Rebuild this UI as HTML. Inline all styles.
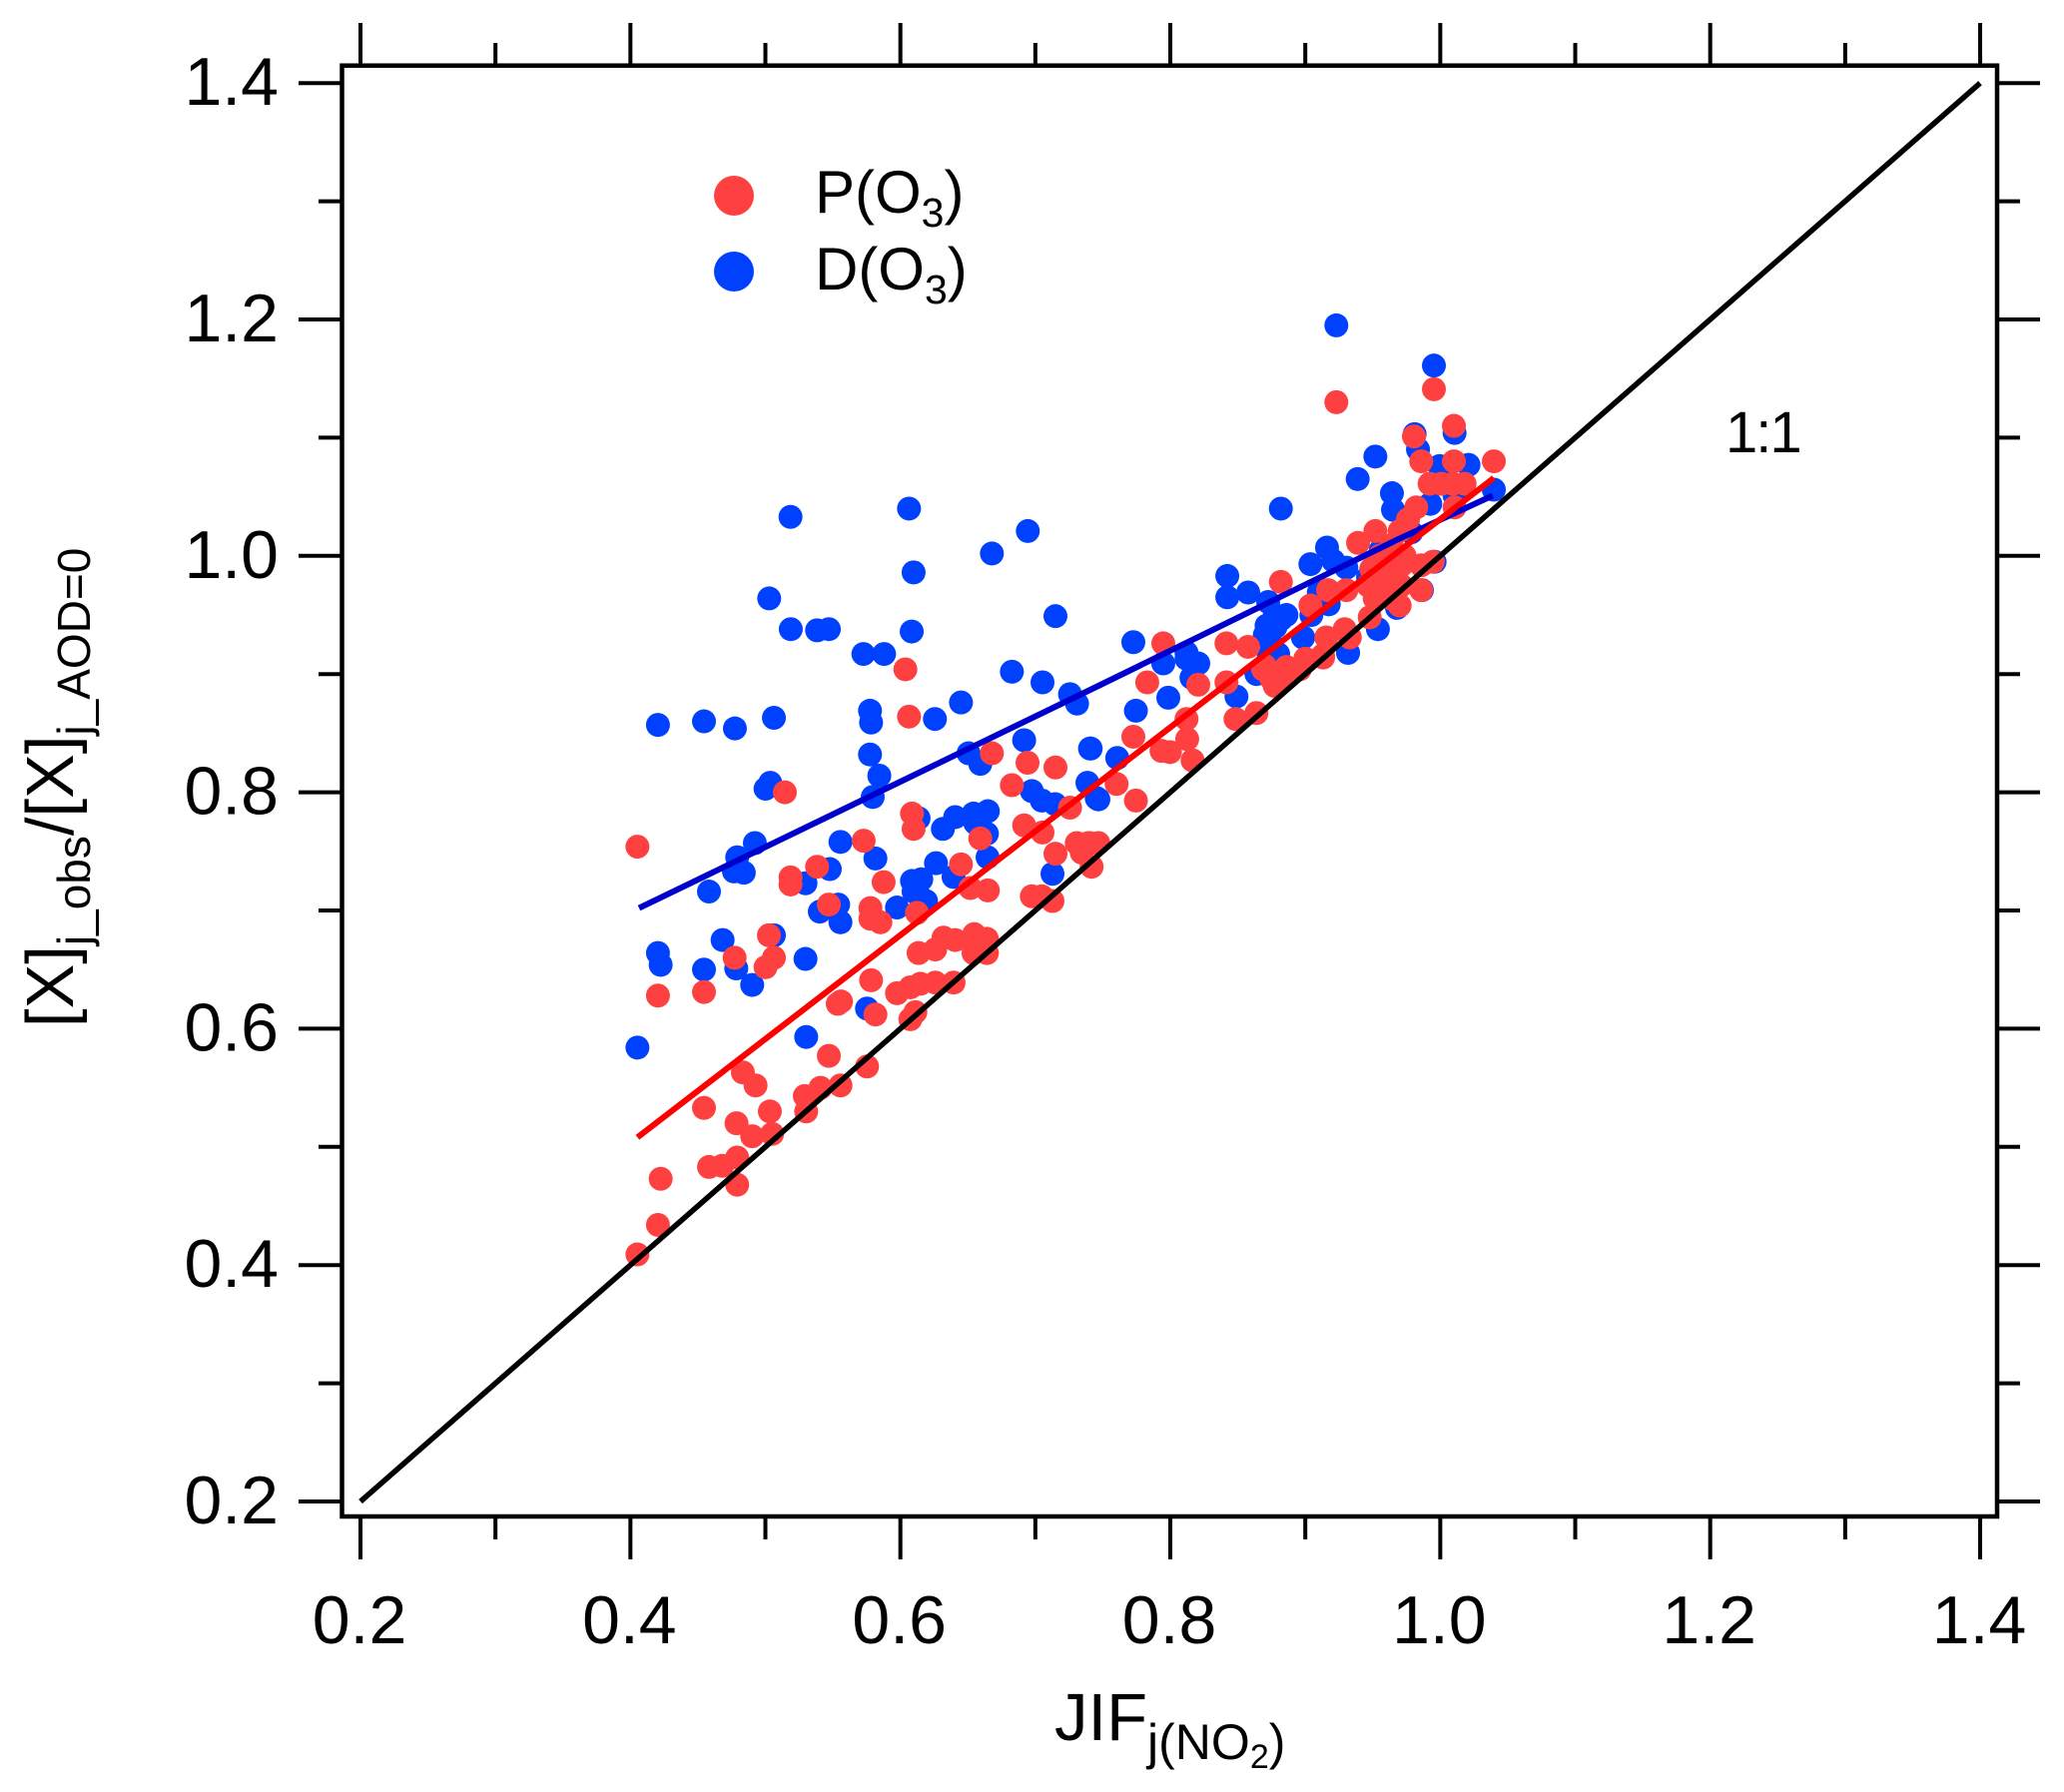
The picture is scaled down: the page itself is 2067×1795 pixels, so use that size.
<!DOCTYPE html>
<html lang="en">
<head>
<meta charset="utf-8">
<title>JIF scatter chart</title>
<style>
html,body{margin:0;padding:0;background:#fff;}
svg{display:block;}
text{font-family:"Liberation Sans",Arial,sans-serif;fill:#000;}
</style>
</head>
<body>
<svg id="chart" xmlns="http://www.w3.org/2000/svg" width="2067" height="1795" viewBox="0 0 2067 1795">
<rect x="0" y="0" width="2067" height="1795" fill="#fff"/>
<g id="dots-d"></g>
<g id="dots-p"></g>
<g id="fits"></g>
<g id="ticks"></g>
<g id="labels"></g>
<rect x="342.5" y="65.7" width="1657.5" height="1453.3" fill="none" stroke="#000" stroke-width="4.5"/>
<text x="1056" y="1743" font-size="67">JIF<tspan font-size="50" dy="19">j(NO</tspan><tspan font-size="34" dy="9">2</tspan><tspan font-size="50" dy="-9">)</tspan></text>
<text transform="translate(73,1029) rotate(-90)" font-size="67">[X]<tspan font-size="46" dy="17">j_obs</tspan><tspan dy="-17">/[X]</tspan><tspan font-size="46" dy="17">j_AOD=0</tspan></text>
<circle cx="735" cy="196" r="20" fill="#ff4040"/>
<circle cx="735" cy="272" r="20" fill="#0040ff"/>
<text x="816" y="213" font-size="60">P(O<tspan font-size="41" dy="14">3</tspan><tspan dy="-14">)</tspan></text>
<text x="816" y="290" font-size="60">D(O<tspan font-size="41" dy="14">3</tspan><tspan dy="-14">)</tspan></text>
<text x="1728" y="453" font-size="58" letter-spacing="-2">1:1</text>
</svg>
<script>
const xTickLabels = ["0.2","0.4","0.6","0.8","1.0","1.2","1.4"];
const yTickLabels = ["0.2","0.4","0.6","0.8","1.0","1.2","1.4"];
const minorTicks = [0.3,0.5,0.7,0.9,1.1,1.3];

const dX = [.5186,.6064,.6944,.6678,.6098,.5028,.7149,.5188,.5383,.5470,.6084,.5726,.5879,.6826,.7053,.7257,.7309,.6449,.6256,.5775,.5783,.4204,.4545,.4774,.5063,.5036,.5001,.5775,.5844,.5795,.6505,.6592,.6917,.7405,.7386,.6974,.7048,.7146,.7455,.6135,.6406,.6542,.6648,.6315,.6555,.6641,.6646,.6264,.5556,.5815,.4922,.4791,.4767,.4840,.7127,.5477,.4582,.5297,.5539,.5403,.5556,.6086,.6155,.6098,.6135,.5975,.6394,.4204,.4224,.4683,.4545,.4784,.4902,.5063,.5297,.5753,.5302,.4052,.7726,.7948,.8120,.8207,.8157,.8120,.7985,.7745,.7410,.7607,.7467,.8490,.8724,.8638,.8786,.8983,.8823,.9316,.9538,.9230,.9953,.8819,.9519,.9388,.9642,.9650,.9810,.9835,.9995,1.0209,1.0106,.9926,1.0106,1.0397,.9785,.9161,.9038,.9206,.9304,.8422,.8422,.8577,.8725,.8860,.8774,.8713,.8700,.8984,.8799,.9174,.9317,.9679,.9864,.9958,.9465,.9045,.9100,.6190,.8750,.8780,.8730,.9560];
const dY = [1.033,1.040,1.021,1.002,.986,.964,.949,.938,.937,.938,.936,.917,.917,.902,.893,.883,.875,.876,.862,.869,.859,.857,.860,.854,.863,.808,.803,.832,.814,.796,.833,.824,.844,.837,.808,.801,.793,.790,.795,.778,.779,.782,.784,.769,.774,.765,.745,.740,.758,.744,.757,.745,.733,.732,.731,.735,.716,.723,.705,.699,.690,.725,.7264,.716,.713,.7025,.7284,.664,.654,.675,.650,.651,.637,.679,.659,.617,.593,.584,.927,.909,.918,.909,.897,.913,.880,.869,.837,.829,.794,.881,.935,.900,.918,.931,.9466,.918,.938,1.195,1.161,1.040,1.084,1.065,1.053,1.039,1.103,1.090,1.076,1.077,1.104,1.044,1.051,1.056,1.020,1.007,.993,.996,.990,.983,.965,.969,.961,.950,.9495,.941,.933,.931,.917,.959,.918,.956,.971,.995,.982,.950,.969,.708,.925,.940,.915,.1005e1];

const pX = [.6037,.6064,.6678,.6942,.7149,.6826,.5144,.7257,.6086,.6098,.6917,.7053,.6592,.5728,.4052,.5383,.6449,.7149,.7319,.7405,.7467,.5186,.5186,.5470,.5876,.5778,.5778,.5852,.6123,.6518,.6648,.6974,.7048,.7127,.4772,.5026,.5063,.5001,.4204,.4545,.6135,.6258,.6320,.6406,.6547,.6641,.6542,.6641,.5783,.5975,.6074,.6148,.6259,.6394,.5536,.5815,.6111,.6074,.5470,.5753,.4833,.4927,.4545,.5408,.5556,.5292,.5302,.5033,.4786,.4902,.5050,.4791,.4582,.4680,.4791,.4224,.4204,.4052,.7948,.8416,.8576,.7829,.8207,.8416,.8120,.8125,.7726,.7935,.7997,.8165,.7602,.7745,.8483,.8638,.7307,.7393,.7344,.7417,.8687,.8749,.8823,.8774,.8872,.9008,.8959,.9131,.9156,.9292,.9330,.9230,.9953,1.0101,.9805,.9859,1.0101,1.0397,.9921,1.0007,1.0093,1.0180,1.0106,.9822,.9761,.9699,.9519,.9391,.8819,.9169,.9304,.9038,.9945,.9859,.9699,.9477,.9637,.9551,.9736,.9489,.9613,.9711,.9465,.9588,.9711,.9514,.9637,.9859,.8700,.8774,.8860,.9000,.9132,.8947,.8730,.8800,.5560];
const pY = [.904,.864,.833,.825,.821,.806,.800,.787,.782,.769,.772,.766,.761,.759,.754,.737,.739,.748,.756,.757,.757,.728,.722,.705,.724,.702,.693,.690,.698,.719,.717,.712,.712,.708,.660,.679,.660,.652,.628,.631,.664,.667,.677,.675,.680,.676,.664,.664,.641,.630,.635,.638,.639,.639,.621,.612,.614,.608,.577,.568,.563,.552,.533,.550,.552,.543,.530,.530,.520,.509,.511,.491,.483,.484,.468,.473,.434,.409,.926,.926,.923,.893,.891,.893,.862,.845,.847,.835,.834,.827,.807,.793,.862,.867,.757,.757,.749,.737,.904,.896,.893,.890,.904,.911,.904,.916,.931,.938,.931,1.130,1.141,1.110,1.101,1.080,1.080,1.080,1.061,1.061,1.061,1.061,1.041,1.041,1.031,1.021,1.021,1.011,.978,.971,.971,.958,.995,.971,.958,.948,1.009,1.000,1.000,.989,.989,.992,.975,.975,.975,.964,.964,.992,.907,.893,.906,.913,.914,.904,.900,.900,.623];

const fitDX = [.4064,.7467,.9687,1.0389];
const fitDY = [.702,.890,1.014,1.051];
const fitPX = [.4052,.7467,1.0397];
const fitPY = [.508,.808,1.066];
const oneToOne = [.2,1.4];

const NS = "http://www.w3.org/2000/svg";
function sx(v){ return 361 + (v - 0.2) * 1351.7; }
function sy(v){ return 1504 - (v - 0.2) * 1184; }
function make(tag, parent, attrs){
  const el = document.createElementNS(NS, tag);
  for (const k in attrs) el.setAttribute(k, attrs[k]);
  parent.appendChild(el);
  return el;
}

const dotsD = document.getElementById("dots-d");
dX.forEach(function(v, i){
  const el = make("circle", dotsD, {cx: sx(v), cy: sy(dY[i]), r: 12, fill: "#0040ff"});
  
  
});
const dotsP = document.getElementById("dots-p");
pX.forEach(function(v, i){
  const el = make("circle", dotsP, {cx: sx(v), cy: sy(pY[i]), r: 12, fill: "#ff4040"});
  
  
});

function pts(xs, ys){
  return xs.map(function(v, i){ return sx(v).toFixed(1) + "," + sy(ys[i]).toFixed(1); }).join(" ");
}
const fits = document.getElementById("fits");
const blueFit = make("polyline", fits, {points: pts(fitDX, fitDY), fill: "none", stroke: "#0000cc", "stroke-width": 6});


const redFit = make("polyline", fits, {points: pts(fitPX, fitPY), fill: "none", stroke: "#ff0000", "stroke-width": 6});


const refLine = make("polyline", fits, {points: pts(oneToOne, oneToOne), fill: "none", stroke: "#000", "stroke-width": 5.5});



const ticks = document.getElementById("ticks");
function addTicks(v, major){
  const lx = major ? 299 : 319, rx = major ? 2043 : 2023;
  const ty = major ? 23 : 43, by = major ? 1562 : 1542;
  const a = make("line", ticks, {x1: lx, x2: 342, y1: sy(v), y2: sy(v), stroke: "#000", "stroke-width": 4});
  
  
  const b = make("line", ticks, {x1: 2000, x2: rx, y1: sy(v), y2: sy(v), stroke: "#000", "stroke-width": 4});
  
  
  const c = make("line", ticks, {x1: sx(v), x2: sx(v), y1: ty, y2: 66, stroke: "#000", "stroke-width": 4});
  
  
  const d = make("line", ticks, {x1: sx(v), x2: sx(v), y1: 1519, y2: by, stroke: "#000", "stroke-width": 4});
  
  
}
xTickLabels.forEach(function(t){ addTicks(parseFloat(t), true); });
minorTicks.forEach(function(v){ addTicks(v, false); });

const labels = document.getElementById("labels");
xTickLabels.forEach(function(t){
  const el = make("text", labels, {x: sx(parseFloat(t)) - 1, y: 1646, "font-size": 68, "text-anchor": "middle"});
  el.textContent = t;
  
  
});
yTickLabels.forEach(function(t){
  const el = make("text", labels, {x: 279, y: sy(parseFloat(t)) + 22, "font-size": 68, "text-anchor": "end"});
  el.textContent = t;
  
  
});
</script>
</body>
</html>
